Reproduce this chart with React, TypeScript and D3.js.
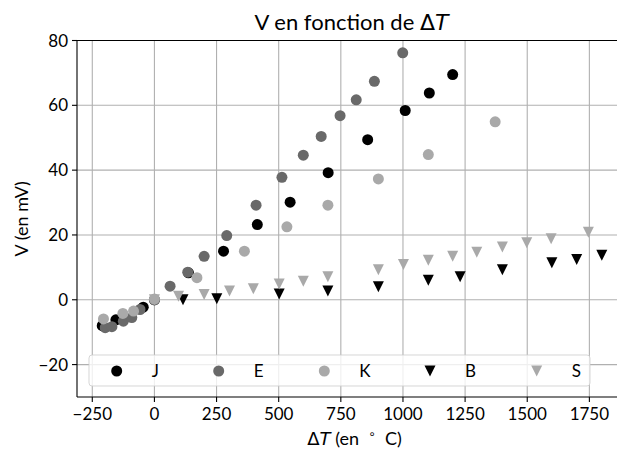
import React from "react";
import * as d3 from "d3";

// ---- data ----
const jX = [-210, -155, -45, 0, 137, 278, 414, 546, 699, 858, 1009, 1106, 1200];
const jY = [-8.0, -6.2, -2.3, 0, 8.3, 15.0, 23.2, 30.1, 39.2, 49.4, 58.4, 63.8, 69.5];

const eX = [-198, -171, -125, -91, -58, 0, 63, 134, 200, 291, 409, 513, 599, 671, 747, 812, 885, 999];
const eY = [-8.6, -8.3, -6.6, -5.5, -3.0, 0, 4.2, 8.5, 13.4, 19.8, 29.2, 37.8, 44.6, 50.4, 56.8, 61.7, 67.4, 76.2];

const kX = [-205, -127, -84, 0, 171, 362, 533, 698, 901, 1102, 1371];
const kY = [-5.9, -4.2, -3.5, 0.2, 6.8, 15.0, 22.5, 29.2, 37.3, 44.8, 54.9];

const bX = [115, 251, 502, 698, 901, 1102, 1230, 1400, 1599, 1699, 1800];
const bY = [0.0, 0.3, 1.8, 2.7, 4.0, 6.0, 7.1, 9.3, 11.4, 12.4, 13.7];

const sX = [0, 97, 200, 302, 398, 502, 599, 698, 901, 1002, 1102, 1200, 1297, 1400, 1498, 1596, 1746];
const sY = [0.0, 1.1, 1.6, 2.7, 3.4, 4.9, 5.7, 7.1, 9.3, 10.9, 12.2, 13.4, 14.7, 16.3, 17.6, 18.8, 20.8];

const seriesNames = ["J", "E", "K", "B", "S"];
const xTicks = [-250, 0, 250, 500, 750, 1000, 1250, 1500, 1750];
const yTicks = [-20, 0, 20, 40, 60, 80];

// ---- layout ----
const W = 617;
const H = 450;
const plotL = 77;
const plotR = 632;
const plotT = 40.5;
const plotB = 397;
const FONT = "Lato, 'DejaVu Sans', sans-serif";
const TICK_FS = 17;

const x = d3.scaleLinear().domain([-311.5, 1921.5]).range([plotL, plotR]);
const y = d3.scaleLinear().domain([-30, 80]).range([plotB, plotT]);

const colors = ["#000000", "#696969", "#a9a9a9", "#000000", "#a9a9a9"];
const shapes = ["circle", "circle", "circle", "tri", "tri"];
const R = 5.5;

const seriesList = [
  { xs: jX, ys: jY },
  { xs: eX, ys: eY },
  { xs: kX, ys: kY },
  { xs: bX, ys: bY },
  { xs: sX, ys: sY },
];

function Marker({ cx, cy, shape, color }: { cx: number; cy: number; shape: string; color: string }) {
  if (shape === "circle") return <circle cx={cx} cy={cy} r={R} fill={color} />;
  const p = `M${cx - R},${cy - R}L${cx + R},${cy - R}L${cx},${cy + R}Z`;
  return <path d={p} fill={color} />;
}

const fmt = (v: number) => (v < 0 ? "\u2212" + Math.abs(v) : String(v));

const legendMarkerX = [116.7, 218.7, 324.3, 430, 536.7];

export default function App() {
  return (
    <svg
      width={W}
      height={H}
      style={{ position: "absolute", left: 0, top: 0, background: "#fff" }}
      fontFamily={FONT}
    >
      <rect x={0} y={0} width={W} height={H} fill="#fff" />
      {/* grid */}
      <g stroke="#b0b0b0" strokeWidth={1.1}>
        {xTicks.map((t) => (
          <line key={"gx" + t} x1={x(t)} x2={x(t)} y1={plotT} y2={plotB} />
        ))}
        {yTicks.map((t) => (
          <line key={"gy" + t} x1={plotL} x2={plotR} y1={y(t)} y2={y(t)} />
        ))}
      </g>
      {/* markers */}
      <g>
        {seriesList.map((s, si) =>
          s.xs.map((xv, i) => (
            <Marker key={si + "-" + i} cx={x(xv)} cy={y(s.ys[i])} shape={shapes[si]} color={colors[si]} />
          ))
        )}
      </g>
      {/* legend */}
      <g>
        <rect x={89} y={355} width={501} height={31} rx={3} fill="#fff" fillOpacity={0.8} stroke="#cccccc" strokeOpacity={0.8} strokeWidth={1} />
        {seriesNames.map((n, i) => (
          <g key={n}>
            <Marker cx={legendMarkerX[i]} cy={371} shape={shapes[i]} color={colors[i]} />
            <text x={legendMarkerX[i] + 35} y={377} fontSize={TICK_FS} fill="#000">
              {n}
            </text>
          </g>
        ))}
      </g>
      {/* spines */}
      <g stroke="#000" strokeWidth={1.1} fill="none">
        <line x1={plotL} x2={plotL} y1={plotT} y2={plotB} />
        <line x1={plotL} x2={plotR} y1={plotB} y2={plotB} />
        <line x1={plotL} x2={plotR} y1={plotT} y2={plotT} />
        <line x1={plotR} x2={plotR} y1={plotT} y2={plotB} />
      </g>
      {/* x ticks */}
      <g>
        {xTicks.map((t) => (
          <g key={"xt" + t}>
            <line x1={x(t)} x2={x(t)} y1={plotB} y2={plotB + 5} stroke="#000" strokeWidth={1.1} />
            <text x={x(t)} y={plotB + 23} fontSize={TICK_FS} textAnchor="middle" fill="#000">
              {fmt(t)}
            </text>
          </g>
        ))}
      </g>
      {/* y ticks */}
      <g>
        {yTicks.map((t) => (
          <g key={"yt" + t}>
            <line x1={plotL - 5} x2={plotL} y1={y(t)} y2={y(t)} stroke="#000" strokeWidth={1.1} />
            <text x={plotL - 9} y={y(t) + 6} fontSize={TICK_FS} textAnchor="end" fill="#000">
              {fmt(t)}
            </text>
          </g>
        ))}
      </g>
      {/* title */}
      <text x={(plotL + plotR) / 2 - 3} y={29.5} fontSize={22} textAnchor="middle" fill="#000">
        V en fonction de <tspan fontFamily="'DejaVu Sans'">Δ</tspan>
        <tspan fontFamily="'DejaVu Sans'" fontStyle="italic">T</tspan>
      </text>
      {/* x label */}
      <text x={(plotL + plotR) / 2} y={445} fontSize={18} textAnchor="middle" fill="#000">
        <tspan fontFamily="'DejaVu Sans'">Δ</tspan>
        <tspan fontFamily="'DejaVu Sans'" fontStyle="italic">T</tspan>
        {" (en\u00a0\u00a0"}
        <tspan fontSize={12} dy={-7} fontFamily="'DejaVu Sans'">∘</tspan>
        <tspan dy={7}>{"\u00a0\u00a0C)"}</tspan>
      </text>
      {/* y label */}
      <text
        transform={`translate(28, ${(plotT + plotB) / 2}) rotate(-90)`}
        fontSize={18}
        textAnchor="middle"
        fill="#000"
      >
        V (en mV)
      </text>
    </svg>
  );
}
